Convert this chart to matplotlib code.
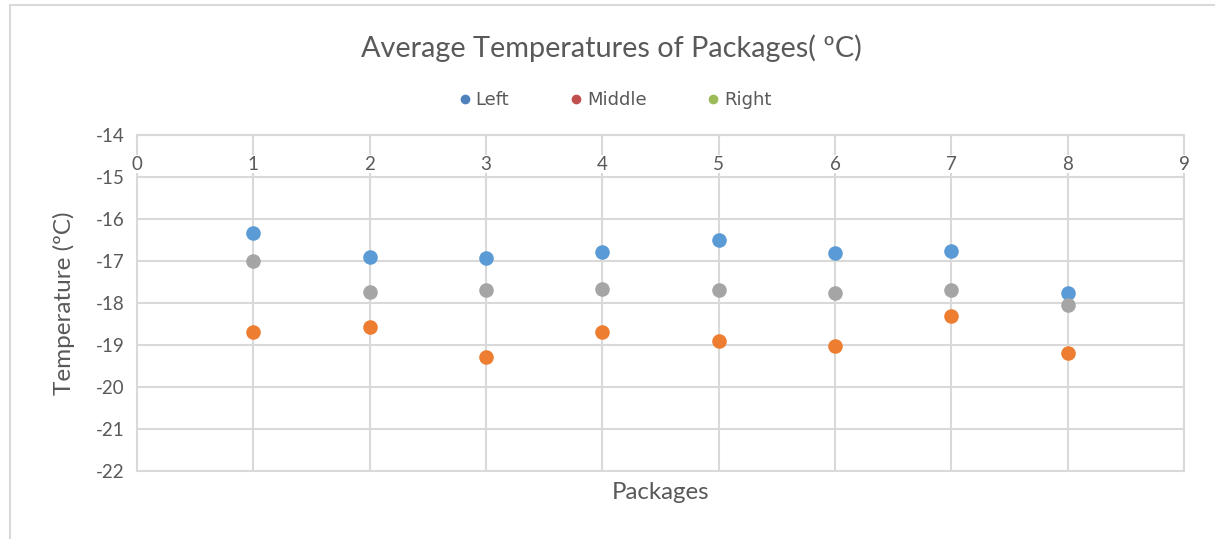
import matplotlib
matplotlib.use("Agg")
import matplotlib.pyplot as plt
from matplotlib.lines import Line2D
from matplotlib.patches import Rectangle

plt.rcParams["axes.unicode_minus"] = False

# Package numbers and average temperatures (°C) per sensor position
packages = [1, 2, 3, 4, 5, 6, 7, 8]
left = [-16.33, -16.91, -16.94, -16.78, -16.50, -16.82, -16.76, -17.77]
middle = [-18.70, -18.58, -19.29, -18.70, -18.90, -19.02, -18.30, -19.18]
right = [-16.99, -17.74, -17.69, -17.66, -17.69, -17.77, -17.69, -18.05]

series_names = ["Left", "Middle", "Right"]
point_colors = ["#5B9BD5", "#ED7D31", "#A5A5A5"]
legend_colors = ["#4F81BD", "#C0504D", "#9BBB59"]

x_ticks = list(range(0, 10))
y_ticks = list(range(-22, -13))

TEXT = "#595959"
GRID = "#D9D9D9"
FONT = "Lato"

fig = plt.figure(figsize=(12.15, 5.39), dpi=100)
fig.patch.set_facecolor("white")

# outer chart frame (only left and top edges fall inside the canvas)
fig.patches.append(Rectangle((10 / 1215, -0.1), 1.2, 1 - 5 / 539 + 0.1,
                             transform=fig.transFigure, fill=False,
                             edgecolor=GRID, linewidth=1.5))

ax = fig.add_axes([137 / 1215, 1 - 471 / 539, (1184 - 137) / 1215, (471 - 135) / 539])

for vals, c in zip([left, middle, right], point_colors):
    ax.scatter(packages, vals, s=110, color=c, zorder=3, linewidths=0)

ax.set_xlim(0, 9)
ax.set_ylim(-22, -14)
ax.set_xticks(x_ticks)
ax.set_yticks(y_ticks)
ax.grid(True, color=GRID, linewidth=1.5)
ax.set_axisbelow(True)
for s in ax.spines.values():
    s.set_color(GRID)
    s.set_linewidth(1.5)
    s.set_zorder(0.5)

# horizontal axis sits at the top, labels hang inside the plot area
ax.xaxis.set_ticks_position("top")
ax.tick_params(axis="x", length=0, labeltop=True, labelbottom=False,
               pad=-27, labelsize=13.5, labelcolor=TEXT)
ax.tick_params(axis="y", length=0, pad=9, labelsize=13.5, labelcolor=TEXT)
for lab in ax.get_xticklabels() + ax.get_yticklabels():
    lab.set_fontfamily(FONT)
for lab in ax.get_xticklabels():
    lab.set_bbox(dict(facecolor="white", edgecolor="none", pad=0.5))

ax.set_xlabel("Packages", fontsize=17.3, color=TEXT, fontfamily=FONT, labelpad=8)
ax.set_ylabel("Temperature (ºC)", fontsize=17.5, color=TEXT, fontfamily=FONT, labelpad=15)

fig.text(0.503, 1 - 48 / 539, "Average Temperatures of Packages( ºC)",
         ha="center", va="center", fontsize=20.8, color=TEXT, fontfamily=FONT)

handles = [Line2D([], [], marker="o", linestyle="none", markersize=7,
                  markerfacecolor=c, markeredgewidth=0) for c in legend_colors]
leg = fig.legend(handles, series_names, loc="center",
                 bbox_to_anchor=(0.505, 1 - 100 / 539), ncol=3, frameon=False,
                 handletextpad=0.1, columnspacing=3.2, handlelength=1.0,
                 prop={"family": "DejaVu Sans", "size": 13})
for t in leg.get_texts():
    t.set_color(TEXT)

fig.savefig("out.png", dpi=100, facecolor="white")
